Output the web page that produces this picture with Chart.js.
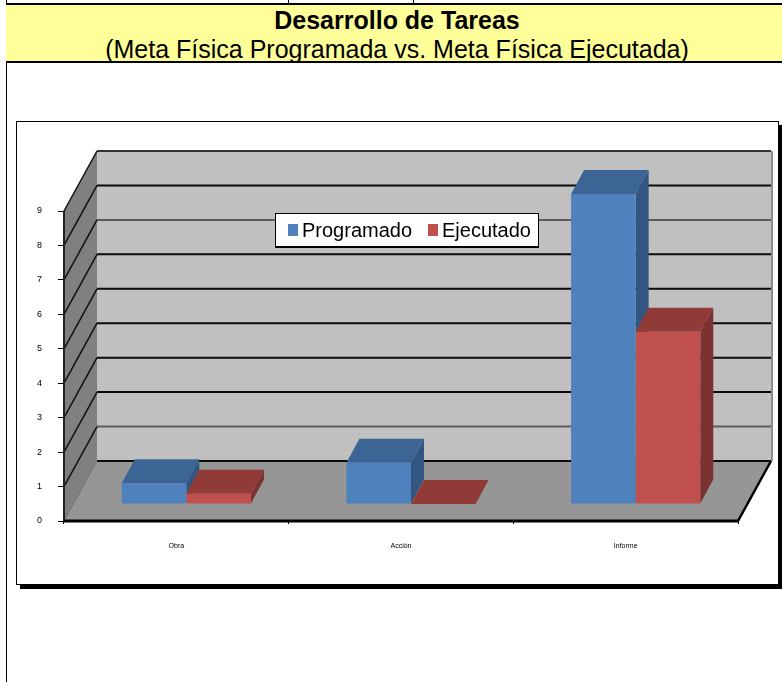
<!DOCTYPE html>
<html lang="es">
<head>
<meta charset="utf-8">
<title>Desarrollo de Tareas</title>
<script src="https://cdn.jsdelivr.net/npm/chart.js@4"></script>
<style>
    html, body { margin: 0; padding: 0; background: #fff; overflow: hidden; }
    #page { position: relative; width: 782px; height: 682px; overflow: hidden; font-family: "Liberation Sans", Arial, sans-serif; }
    #left-line { position: absolute; left: 6px; top: 0; width: 1px; height: 682px; background: #000; }
    .top-tick { position: absolute; top: 0; width: 1px; height: 4px; background: #000; }
    #header { position: absolute; left: 6px; top: 3px; width: 776px; height: 56px; background: #ffff99;
              border-top: 2px solid #000; border-bottom: 2px solid #000; }
    #header div { position: absolute; left: 0; width: 782px; text-align: center; color: #000; font-size: 25px; line-height: 28px; white-space: nowrap; }
    #title { top: 1px; font-weight: bold; }
    #subtitle { top: 30px; }
    #frame { position: absolute; left: 16px; top: 121px; width: 761px; height: 462px; background: #fff;
             border: 1px solid #000; box-shadow: 4px 4px 0 #000; }
    canvas { position: absolute; left: 0; top: 0; }
</style>
</head>
<body>
<div id="page">
    <div id="left-line"></div>
    <div class="top-tick" style="left:288px"></div>
    <div class="top-tick" style="left:413px"></div>
    <div id="header">
        <div id="title">Desarrollo de Tareas</div>
        <div id="subtitle">(Meta Física Programada vs. Meta Física Ejecutada)</div>
    </div>
    <div id="frame"></div>
    <canvas id="chart" width="782" height="682"></canvas>
</div>
<script>
// Datos
const categories = ['Obra', 'Acción', 'Informe'];
const programado = [0.6, 1.2, 9];
const ejecutado = [0.3, 0, 5];
const seriesNames = ['Programado', 'Ejecutado'];

// Profundidad de la caja 3D y de las barras
const wallDepth = { x: 33, y: -60 };
const barShift = { x: 10, y: -17 };
const barDepth = { x: 13, y: -24 };
const shades = [
    { front: '#4f81bd', top: '#3c6494', side: '#325680' },
    { front: '#c0504d', top: '#913b39', side: '#7a3331' }
];

function poly(ctx, pts, fill) {
    ctx.beginPath();
    pts.forEach((p, i) => i ? ctx.lineTo(p[0], p[1]) : ctx.moveTo(p[0], p[1]));
    ctx.closePath();
    ctx.fillStyle = fill;
    ctx.fill();
}

function line(ctx, x1, y1, x2, y2, color, width) {
    ctx.beginPath();
    ctx.moveTo(x1, y1);
    ctx.lineTo(x2, y2);
    ctx.strokeStyle = color;
    ctx.lineWidth = width;
    ctx.stroke();
}

// Paredes, suelo y lineas de la caja
const boxPlugin = {
    id: 'box3d',
    beforeDatasetsDraw(chart) {
        const { ctx, chartArea: a, scales: { y } } = chart;
        const dx = wallDepth.x, dy = wallDepth.y;
        ctx.save();
        poly(ctx, [[a.left + dx, a.top + dy], [a.right + dx, a.top + dy], [a.right + dx, a.bottom + dy], [a.left + dx, a.bottom + dy]], '#c0c0c0');
        poly(ctx, [[a.left, a.top], [a.left + dx, a.top + dy], [a.left + dx, a.bottom + dy], [a.left, a.bottom]], '#808080');
        poly(ctx, [[a.left, a.bottom], [a.right, a.bottom], [a.right + dx, a.bottom + dy], [a.left + dx, a.bottom + dy]], '#969696');
        line(ctx, a.right + dx + 1, a.top + dy, a.right + dx + 1, a.bottom + dy, '#8c8c8c', 2);
        y.ticks.forEach(t => {
            const py = y.getPixelForValue(t.value);
            const soft = t.value === 7 || t.value === 1;
            line(ctx, a.left + dx, py + dy, a.right + dx, py + dy, t.value === 9 ? '#333' : soft ? '#5c5c5c' : '#0a0a0a', 2);
            if (t.value > 0) line(ctx, a.left, py, a.left + dx, py + dy, '#111', 1.5);
        });
        line(ctx, a.right, a.bottom, a.right + dx, a.bottom + dy, '#000', 2.5);
        line(ctx, a.left, a.bottom, a.left + dx, a.bottom + dy, '#6e6e6e', 1);

        // Caras laterales y superiores de las barras
        ctx.translate(barShift.x, barShift.y);
        const bx = barDepth.x, by = barDepth.y;
        chart.data.datasets.forEach((ds, d) => {
            chart.getDatasetMeta(d).data.forEach(bar => {
                const { x, y: top, base, width } = bar.getProps(['x', 'y', 'base', 'width']);
                const l = x - width / 2, r = x + width / 2;
                poly(ctx, [[r, top], [r + bx, top + by], [r + bx, base + by], [r, base]], shades[d].side);
                poly(ctx, [[l, top], [l + bx, top + by], [r + bx, top + by], [r, top]], shades[d].top);
            });
        });
    },
    afterDatasetsDraw(chart) {
        chart.ctx.restore();
        const { ctx, chartArea: a } = chart;
        line(ctx, a.left, a.bottom, a.right, a.bottom, '#000', 3);
        line(ctx, a.left, a.top, a.left, a.bottom, '#222', 2);
    }
};

// Leyenda flotante sobre la pared del fondo
const legendPlugin = {
    id: 'floatLegend',
    afterDraw(chart) {
        const { ctx } = chart;
        ctx.save();
        ctx.fillStyle = '#000';
        ctx.fillRect(275, 213, 264, 35);
        ctx.fillStyle = '#fff';
        ctx.fillRect(276, 214, 262, 32);
        ctx.font = '20px "Liberation Sans", Arial, sans-serif';
        ctx.textBaseline = 'middle';
        const slots = [288, 428];
        chart.data.datasets.forEach((ds, d) => {
            ctx.fillStyle = ds.backgroundColor;
            ctx.fillRect(slots[d], 224, 10, 12);
            ctx.fillStyle = '#000';
            ctx.fillText(ds.label, slots[d] + 14, 231);
        });
        ctx.restore();
    }
};

new Chart(document.getElementById('chart'), {
    type: 'bar',
    data: {
        labels: categories,
        datasets: [
            { label: seriesNames[0], data: programado, backgroundColor: shades[0].front },
            { label: seriesNames[1], data: ejecutado, backgroundColor: shades[1].front }
        ]
    },
    options: {
        responsive: false,
        animation: false,
        clip: false,
        categoryPercentage: 0.575,
        barPercentage: 1,
        layout: { autoPadding: false, padding: { left: 0, right: 44, top: 211, bottom: 121 } },
        plugins: {
            legend: { display: false },
            title: { display: false },
            tooltip: { enabled: false }
        },
        scales: {
            x: {
                afterFit: s => { s.height = 40; },
                grid: { display: true, drawOnChartArea: false, tickLength: 3, color: '#000' },
                border: { display: false },
                ticks: { color: '#000', font: { family: 'Liberation Sans', size: 7 }, padding: 18, maxRotation: 0 }
            },
            y: {
                min: 0,
                max: 9,
                afterFit: s => { s.width = 64; },
                grid: { display: true, drawOnChartArea: false, tickLength: 6, color: '#000' },
                border: { display: false },
                ticks: { stepSize: 1, color: '#000', font: { family: 'Liberation Sans', size: 9 }, padding: 16 }
            }
        }
    },
    plugins: [boxPlugin, legendPlugin]
});
</script>
</body>
</html>
